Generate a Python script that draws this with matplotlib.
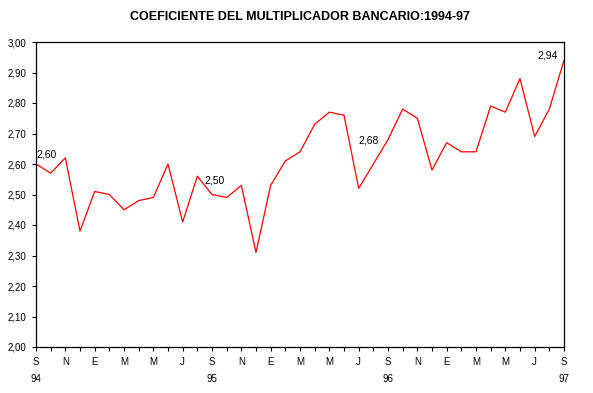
import matplotlib
matplotlib.use('Agg')
import matplotlib.pyplot as plt
from matplotlib.ticker import MultipleLocator, FuncFormatter

# monthly series, Sept 1994 .. Sept 1997
months = ['S', 'O', 'N', 'D', 'E', 'F', 'M', 'A', 'M', 'J', 'J', 'A',
          'S', 'O', 'N', 'D', 'E', 'F', 'M', 'A', 'M', 'J', 'J', 'A',
          'S', 'O', 'N', 'D', 'E', 'F', 'M', 'A', 'M', 'J', 'J', 'A', 'S']
years = {0: '94', 12: '95', 24: '96', 36: '97'}
values = [2.60, 2.57, 2.62, 2.38, 2.51, 2.50, 2.45, 2.48, 2.49, 2.60, 2.41, 2.56,
          2.50, 2.49, 2.53, 2.31, 2.53, 2.61, 2.64, 2.73, 2.77, 2.76, 2.52, 2.60,
          2.68, 2.78, 2.75, 2.58, 2.67, 2.64, 2.64, 2.79, 2.77, 2.88, 2.69, 2.78, 2.94]
labelled = [0, 12, 24, 36]
label_offsets = {0: (0.0, 0.016), 12: (-0.5, 0.028), 24: (-2.0, -0.018), 36: (-1.8, 0.0)}

plt.rcParams['font.family'] = ['Liberation Sans', 'DejaVu Sans']

fig = plt.figure(figsize=(5.93, 3.93), dpi=100)
ax = fig.add_axes([36 / 593, 46 / 393, 528 / 593, 305 / 393])

x = list(range(len(values)))
ax.plot(x, values, color='red', linewidth=0.9)

for i in labelled:
    dx, dy = label_offsets[i]
    ax.text(x[i] + dx, values[i] + dy, f'{values[i]:.2f}'.replace('.', ','),
            fontsize=7.5, ha='left', va='bottom')

ax.set_xlim(0, len(values) - 1)
ax.set_ylim(2.0, 3.0)
ax.yaxis.set_major_locator(MultipleLocator(0.1))
ax.yaxis.set_major_formatter(FuncFormatter(lambda v, p: f'{v:.2f}'.replace('.', ',')))

ax.set_xticks(x, minor=True)
ax.set_xticks(x[::2])
ax.set_xticklabels([months[i] + ('\n\n' + years[i] if i in years else '') for i in x[::2]],
                   linespacing=0.85)
ax.tick_params(axis='both', which='both', direction='out', length=3, width=0.8,
               labelsize=7, pad=4)

for s in ax.spines.values():
    s.set_linewidth(0.9)

fig.text(0.505, 0.957, 'COEFICIENTE DEL MULTIPLICADOR BANCARIO:1994-97',
         ha='center', va='center', fontsize=9, fontweight='bold')

fig.savefig('out.png', dpi=100)
